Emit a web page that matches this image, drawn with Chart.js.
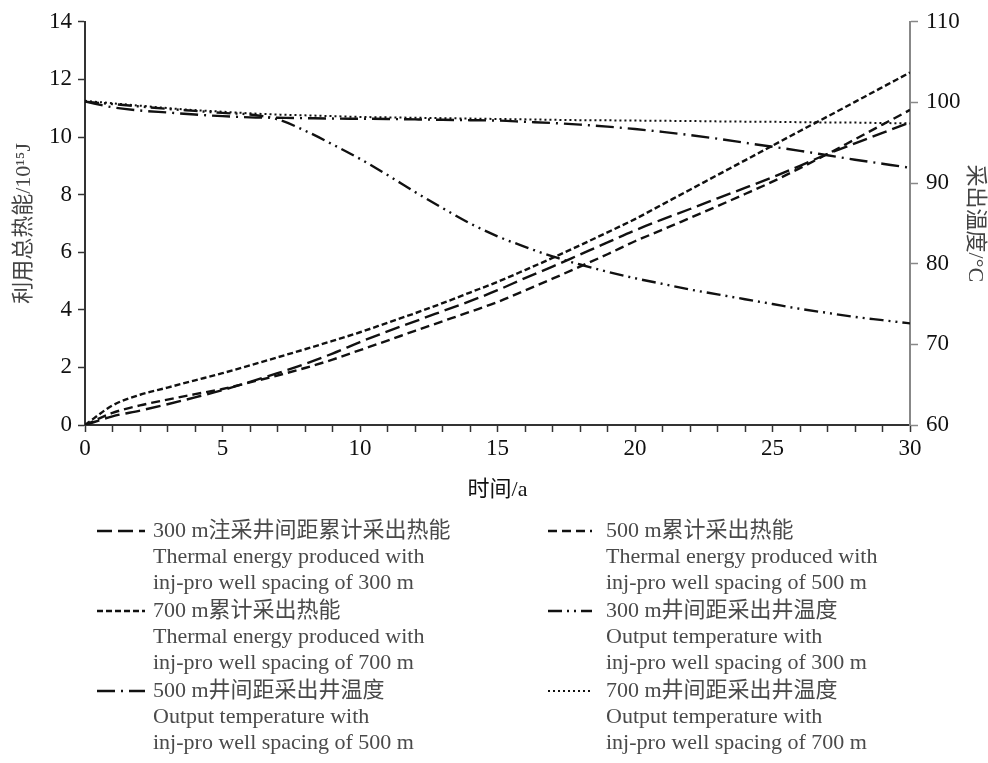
<!DOCTYPE html>
<html>
<head>
<meta charset="utf-8">
<script src="https://cdn.jsdelivr.net/npm/chart.js@4/dist/chart.umd.min.js"></script>
<style>
  html, body { margin: 0; padding: 0; background: #fff; }
  #wrap { width: 988px; height: 763px; }
</style>
</head>
<body>
<div id="wrap"><canvas id="chart" width="988" height="763"></canvas></div>
<script>
// years 0..30
const years = Array.from({ length: 31 }, (_, i) => i);

// cumulative produced thermal energy, 10^15 J (left axis)
const energy300 = [0, 0.3, 0.5, 0.72, 0.96, 1.21, 1.5, 1.8, 2.12, 2.48, 2.88, 3.25, 3.6, 3.95, 4.3, 4.68,
  5.1, 5.5, 5.92, 6.34, 6.76, 7.14, 7.5, 7.87, 8.23, 8.6, 9.0, 9.41, 9.78, 10.14, 10.51];
const energy500 = [0, 0.42, 0.68, 0.88, 1.07, 1.25, 1.48, 1.72, 1.98, 2.27, 2.6, 2.93, 3.27, 3.6, 3.93, 4.27,
  4.67, 5.08, 5.5, 5.93, 6.38, 6.78, 7.19, 7.6, 8.02, 8.45, 8.92, 9.41, 9.92, 10.43, 10.94];
const energy700 = [0, 0.68, 1.05, 1.3, 1.55, 1.8, 2.07, 2.35, 2.63, 2.92, 3.22, 3.55, 3.88, 4.23, 4.6, 4.97,
  5.38, 5.8, 6.24, 6.69, 7.15, 7.66, 8.17, 8.68, 9.19, 9.7, 10.21, 10.71, 11.22, 11.73, 12.24];

// output temperature, degC (right axis)
const temp300 = [100.1, 99.8, 99.5, 99.2, 98.95, 98.7, 98.5, 97.9, 96.5, 94.8, 93.0, 91.0, 88.9, 86.9, 85.0, 83.4,
  82.1, 80.9, 79.9, 79.0, 78.2, 77.5, 76.8, 76.2, 75.6, 75.0, 74.4, 73.9, 73.4, 73.0, 72.6];
const temp500 = [100.1, 99.4, 99.0, 98.75, 98.5, 98.3, 98.15, 98.1, 98.05, 98.0, 97.98, 97.95, 97.9, 97.85, 97.8, 97.75,
  97.6, 97.45, 97.25, 97.0, 96.7, 96.35, 95.95, 95.5, 95.0, 94.5, 94.0, 93.45, 92.9, 92.4, 91.9];
const temp700 = [100.2, 99.9, 99.6, 99.3, 99.05, 98.85, 98.65, 98.5, 98.4, 98.3, 98.2, 98.15, 98.1, 98.05, 98.0, 97.95,
  97.9, 97.85, 97.8, 97.78, 97.75, 97.72, 97.7, 97.65, 97.62, 97.6, 97.55, 97.52, 97.5, 97.45, 97.4];

const legendLabels = [
  ["300 m注采井间距累计采出热能", "Thermal energy produced with", "inj-pro well spacing of 300 m"],
  ["500 m累计采出热能", "Thermal energy produced with", "inj-pro well spacing of 500 m"],
  ["700 m累计采出热能", "Thermal energy produced with", "inj-pro well spacing of 700 m"],
  ["300 m井间距采出井温度", "Output temperature with", "inj-pro well spacing of 300 m"],
  ["500 m井间距采出井温度", "Output temperature with", "inj-pro well spacing of 500 m"],
  ["700 m井间距采出井温度", "Output temperature with", "inj-pro well spacing of 700 m"]
];

const FONT = '"Liberation Serif", "Noto Sans CJK SC", serif';
Chart.defaults.font.family = FONT;

function line(data, axis, dash, width) {
  return {
    data: data.map((v, i) => ({ x: years[i], y: v })),
    yAxisID: axis,
    borderColor: "#111",
    borderWidth: width,
    borderDash: dash,
    pointRadius: 0,
    fill: false,
    cubicInterpolationMode: "monotone"
  };
}

const datasets = [
  line(energy300, "y", [15, 6], 2.4),
  line(energy500, "y", [9, 5], 2.4),
  line(energy700, "y", [6, 3], 2.4),
  line(temp300, "y2", [14, 5, 2, 5, 2, 5], 2.4),
  line(temp500, "y2", [18, 6, 2, 6], 2.4),
  line(temp700, "y2", [2, 3], 2)
];

// two-column legend, three text lines per entry, drawn under the axis title
const legendPlugin = {
  id: "multiLegend",
  afterDraw(chart) {
    const ctx = chart.ctx;
    const sampleX = [[97, 145], [548, 592]];
    const textX = [153, 606];
    const rowY = [531, 611, 691];
    const lineH = 26.3;
    ctx.save();
    ctx.font = "22px " + FONT;
    ctx.textBaseline = "middle";
    chart.data.datasets.forEach((ds, i) => {
      const col = i % 2, row = Math.floor(i / 2);
      const y = rowY[row];
      ctx.strokeStyle = "#111";
      ctx.lineWidth = ds.borderWidth;
      ctx.setLineDash(ds.borderDash);
      ctx.beginPath();
      ctx.moveTo(sampleX[col][0], y);
      ctx.lineTo(sampleX[col][1], y);
      ctx.stroke();
      ctx.setLineDash([]);
      ctx.fillStyle = "#4a4a4a";
      legendLabels[i].forEach((t, k) => ctx.fillText(t, textX[col], y + k * lineH));
    });
    ctx.restore();
  }
};

new Chart(document.getElementById("chart"), {
  type: "line",
  data: { datasets },
  options: {
    responsive: false,
    animation: false,
    devicePixelRatio: 1,
    layout: { padding: { top: 21, left: 0, right: 0, bottom: 256 } },
    plugins: { legend: { display: false }, tooltip: { enabled: false } },
    scales: {
      x: {
        type: "linear",
        min: 0, max: 30,
        ticks: {
          stepSize: 1, autoSkip: false, maxRotation: 0, padding: 3,
          color: "#111", font: { size: 23 },
          callback: v => (v % 5 === 0 ? v : "")
        },
        grid: { drawOnChartArea: false, tickLength: 7, tickColor: "#333", tickWidth: 1.5 },
        border: { color: "#333", width: 2 },
        title: { display: true, text: "时间/a", color: "#111", font: { size: 22 }, padding: { top: 0, bottom: 4 } },
        afterFit: s => { s.height = 82; }
      },
      y: {
        position: "left",
        min: 0, max: 14,
        ticks: { stepSize: 2, padding: 6, color: "#111", font: { size: 23 } },
        grid: { drawOnChartArea: false, tickLength: 7, tickColor: "#333", tickWidth: 1.5 },
        border: { color: "#333", width: 2 },
        title: { display: true, text: "利用总热能/10¹⁵J", color: "#444", font: { size: 22 }, padding: { top: 11, bottom: 0 } },
        afterFit: s => { s.width = 85; }
      },
      y2: {
        position: "right",
        min: 60, max: 110,
        ticks: { stepSize: 10, padding: 8, color: "#111", font: { size: 23 } },
        grid: { drawOnChartArea: false, tickLength: 8, tickColor: "#888", tickWidth: 1.5 },
        border: { color: "#888", width: 2 },
        title: { display: true, text: "采出温度/°C", color: "#444", font: { size: 22 }, padding: { top: 0, bottom: 0 } },
        afterFit: s => { s.width = 78; }
      }
    }
  },
  plugins: [legendPlugin]
});
</script>
</body>
</html>
